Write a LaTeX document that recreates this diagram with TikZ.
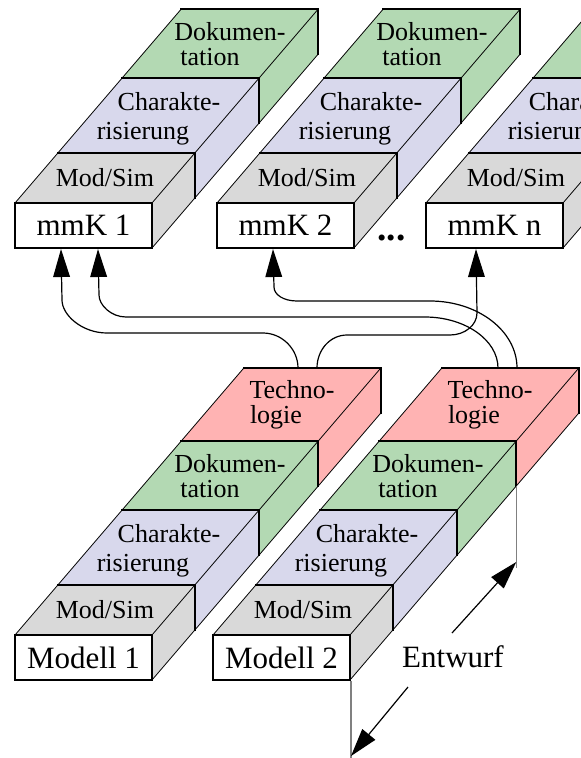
\documentclass[tikz,border=0pt]{standalone}
\usepackage{fontspec}
\setmainfont{Liberation Serif}
\usetikzlibrary{arrows.meta,calc}
\definecolor{cgray}{RGB}{217,217,217}
\definecolor{clav}{RGB}{216,216,236}
\definecolor{cgreen}{RGB}{179,217,179}
\definecolor{cpink}{RGB}{255,179,179}
\tikzset{
  thickln/.style={line width=1.5pt, line cap=rect},
  thinln/.style={line width=0.6pt},
  lab/.style={font=\fontsize{19.5}{20}\selectfont, anchor=base, inner sep=0pt},
  biglab/.style={font=\fontsize{23.25}{24}\selectfont, anchor=base, inner sep=0pt},
  frontbox/.style={draw, fill=white, line width=1.5pt, minimum width=102.75pt,
    minimum height=33.75pt, inner sep=0pt, font=\fontsize{23.25}{24}\selectfont},
  conn/.style={line width=0.9pt, -{Triangle[length=21pt,width=12.5pt]}},
  dimln/.style={line width=0.9pt, draw=black!50}
}
\newcommand{\mmseg}[3]{%
  \fill[#3] (0,0,#1) -- (137,0,#1) -- (137,0,#2) -- (0,0,#2) -- cycle;
  \fill[#3] (137,0,#1) -- (137,0,#2) -- (137,45,#2) -- (137,45,#1) -- cycle;
  \draw[thinln] (0,0,#1) -- (0,0,#2) (137,0,#1) -- (137,0,#2) (137,45,#1) -- (137,45,#2);
  \draw[thickln] (0,0,#1) -- (137,0,#1) (0,0,#2) -- (137,0,#2)
    (137,0,#1) -- (137,45,#1) (137,0,#2) -- (137,45,#2);
}
\begin{document}
\begin{tikzpicture}[x=0.75pt,y=-0.75pt,z={(0.6428pt,0.75pt)}]
\useasboundingbox (0,0) rectangle (581,758);
\clip (0,0) rectangle (581,758);

% ---------- top stacks ----------
\begin{scope}[shift={(15,203)}]
  \mmseg{0}{50}{cgray}\mmseg{50}{125}{clav}\mmseg{125}{194}{cgreen}
  \node[frontbox] (mmk1) at (68.5,22.5) {mmK 1};
  \node[lab] (m1mod) at (90,-17) {Mod/Sim};
  \node[lab] (m1cha) at (154,-93) {Charakte-};
  \node[lab] (m1ris) at (128,-64) {risierung};
  \node[lab] (m1dok) at (215,-163) {Dokumen-};
  \node[lab] (m1tat) at (195,-138) {tation};
\end{scope}
\begin{scope}[shift={(217,203)}]
  \mmseg{0}{50}{cgray}\mmseg{50}{125}{clav}\mmseg{125}{194}{cgreen}
  \node[frontbox] (mmk2) at (68.5,22.5) {mmK 2};
  \node[lab] (m2mod) at (90,-17) {Mod/Sim};
  \node[lab] (m2cha) at (154,-93) {Charakte-};
  \node[lab] (m2ris) at (128,-64) {risierung};
  \node[lab] (m2dok) at (215,-163) {Dokumen-};
  \node[lab] (m2tat) at (195,-138) {tation};
\end{scope}
\begin{scope}[shift={(426,203)}]
  \mmseg{0}{50}{cgray}\mmseg{50}{125}{clav}\mmseg{125}{194}{cgreen}
  \node[frontbox] (mmkn) at (68.5,22.5) {mmK n};
  \node[lab] (mnmod) at (90,-17) {Mod/Sim};
  \node[lab] (mncha) at (154,-93) {Charakte-};
  \node[lab] (mnris) at (128,-64) {risierung};
  \node[lab] (mndok) at (215,-163) {Dokumen-};
  \node[lab] (mntat) at (195,-138) {tation};
\end{scope}
\node[anchor=base, inner sep=0pt, font=\fontsize{28}{28}\selectfont\bfseries] (dots) at (391.5,240) {...};

% ---------- bottom stacks ----------
\begin{scope}[shift={(15,635)}]
  \mmseg{0}{50}{cgray}\mmseg{50}{125}{clav}\mmseg{125}{194}{cgreen}\mmseg{194}{267}{cpink}
  \node[frontbox] (mod1) at (68.5,22.5) {Modell 1};
  \node[lab] (b1mod) at (90,-17) {Mod/Sim};
  \node[lab] (b1cha) at (154,-93) {Charakte-};
  \node[lab] (b1ris) at (128,-64) {risierung};
  \node[lab] (b1dok) at (215,-163) {Dokumen-};
  \node[lab] (b1tat) at (195,-138) {tation};
  \node[lab] (b1tec) at (277,-237) {Techno-};
  \node[lab] (b1log) at (261,-212) {logie};
\end{scope}
\begin{scope}[shift={(213,635)}]
  \mmseg{0}{50}{cgray}\mmseg{50}{125}{clav}\mmseg{125}{194}{cgreen}\mmseg{194}{267}{cpink}
  \node[frontbox] (mod2) at (68.5,22.5) {Modell 2};
  \node[lab] (b2mod) at (90,-17) {Mod/Sim};
  \node[lab] (b2cha) at (154,-93) {Charakte-};
  \node[lab] (b2ris) at (128,-64) {risierung};
  \node[lab] (b2dok) at (215,-163) {Dokumen-};
  \node[lab] (b2tat) at (195,-138) {tation};
  \node[lab] (b2tec) at (277,-237) {Techno-};
  \node[lab] (b2log) at (261,-212) {logie};
  \coordinate (dimtop) at (137,45,194);
\end{scope}

% ---------- connectors ----------
\coordinate (ta1) at (298,368);
\coordinate (tb1) at (317,368);
\coordinate (ta2) at (498,368);
\coordinate (tb2) at (517,368);
\coordinate (e1a) at ($(mmk1.south west)+(47,0)$);
\coordinate (e1b) at ($(mmk1.south west)+(84,0)$);
\coordinate (e2)  at ($(mmk2.south west)+(57,0)$);
\coordinate (en)  at ($(mmkn.south west)+(51,0)$);

\draw[conn] (ta1) .. controls (298,349) and (282,333) .. (263,333) -- (107,333)
  .. controls (82,333) and (62,315) .. (62,300) -- (e1a);
\draw[conn] (ta2) .. controls (498,340) and (465,317) .. (425,317) -- (126,317)
  .. controls (111,317) and (99,305) .. (99,295) -- (e1b);
\draw[conn] (tb2) .. controls (517,331) and (478,301) .. (430,301) -- (297,301)
  .. controls (284,301) and (274,295) .. (274,287) -- (e2);
\draw[conn] (tb1) .. controls (317,350) and (330,335) .. (347,335) -- (450,335)
  .. controls (465,335) and (477,325) .. (477,313) -- (en);

% ---------- Entwurf ----------
\draw[dimln] (dimtop) -- ++(0,82) coordinate (dimtopend);
\draw[dimln] (mod2.south east) -- ++(0,80) coordinate (dimbotend);
\node[biglab] (entw) at (453,667) {Entwurf};
\coordinate (u1) at (452,633);
\coordinate (l1) at (408,687);
\draw[conn] (u1) -- ($(dimtop)+(0,76)$);
\draw[conn] (l1) -- ($(mod2.south east)+(0,75)$);
\end{tikzpicture}
\end{document}
